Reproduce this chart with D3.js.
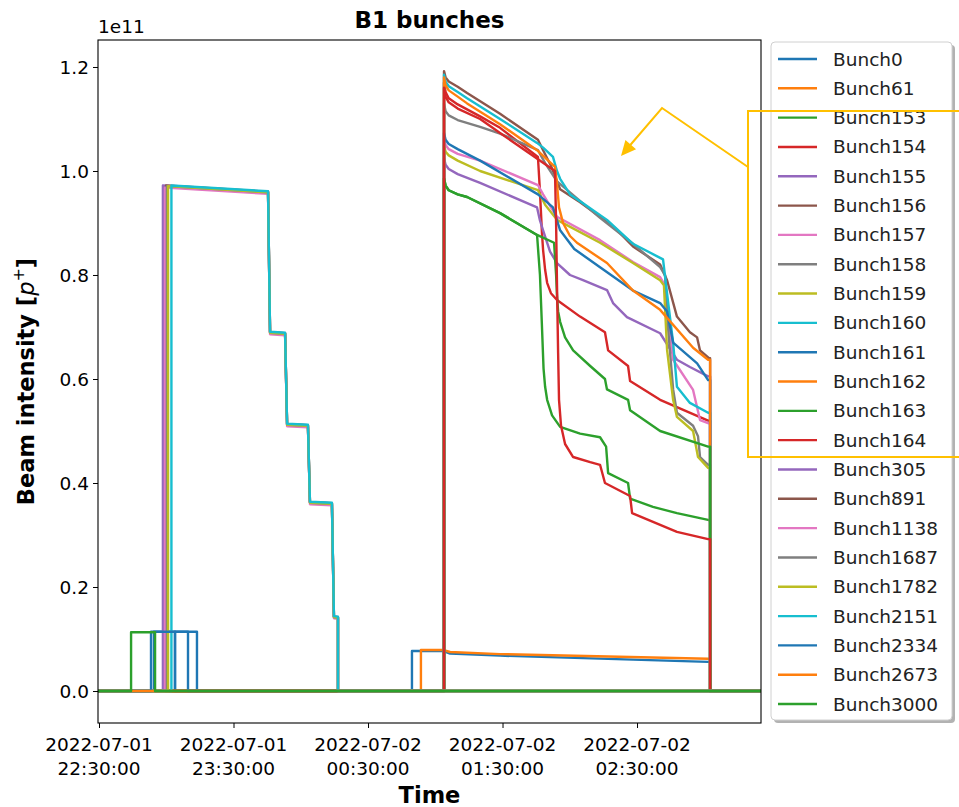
<!DOCTYPE html>
<html><head><meta charset="utf-8">
<script src="https://cdn.jsdelivr.net/npm/d3@7"></script>
<style>body{margin:0;background:#fff}text{font-family:"DejaVu Sans",sans-serif}</style>
</head><body><svg id="c" width="959" height="807"></svg>
<script>
// ---------- data ----------
const startTime = "2022-07-01T22:30:00";           // minutes below are offsets from this
const xTickMinutes = [0, 60, 120, 180, 240];
const xTickDates = ["2022-07-01", "2022-07-01", "2022-07-02", "2022-07-02", "2022-07-02"];
const xTickClock = ["22:30:00", "23:30:00", "00:30:00", "01:30:00", "02:30:00"];
const yTicks = [0.0, 0.2, 0.4, 0.6, 0.8, 1.0, 1.2];
const bunchNames = ["Bunch0","Bunch61","Bunch153","Bunch154","Bunch155","Bunch156","Bunch157","Bunch158","Bunch159","Bunch160","Bunch161","Bunch162","Bunch163","Bunch164","Bunch305","Bunch891","Bunch1138","Bunch1687","Bunch1782","Bunch2151","Bunch2334","Bunch2673","Bunch3000"];
const palette = ["#1f77b4","#ff7f0e","#2ca02c","#d62728","#9467bd","#8c564b","#e377c2","#7f7f7f","#bcbd22","#17becf"];

// [minutes since start, intensity in 1e11 p+]
const bunch0 = [[-5,0],[33.9,0],[33.9,0.114],[43.7,0.114],[43.7,0],[139.6,0],[139.6,0.077],[153.4,0.077],[156.6,0.072],[178.9,0.068],[271.7,0.056],[272.6,0.056],[272.6,0],[300,0]];
const bunch61 = [[-5,0],[143.6,0],[143.6,0.079],[153.4,0.079],[156.6,0.075],[178.9,0.071],[271.7,0.062],[272.6,0.062],[272.6,0],[300,0]];
const bunch153 = [[-5,0],[153.9,0],[153.9,0.986],[154.6,0.972],[156,0.963],[160,0.955],[164.2,0.95],[178.9,0.919],[195.4,0.877],[196.7,0.80],[197.6,0.70],[198.3,0.62],[199.0,0.585],[199.9,0.56],[202.1,0.53],[205.7,0.508],[214.6,0.495],[223.5,0.488],[226.2,0.470],[227.1,0.419],[236.0,0.40],[236.9,0.37],[247.1,0.354],[257.8,0.342],[271.7,0.329],[272.6,0.329],[272.6,0],[300,0]];
const bunch154 = [[-5,0],[153.9,0],[153.9,1.17],[154.6,1.152],[156,1.14],[160,1.128],[170.0,1.105],[178.9,1.083],[195.8,1.027],[196.7,0.96],[197.6,0.88],[198.1,0.848],[199.0,0.81],[199.9,0.785],[201.6,0.765],[204.3,0.752],[214.6,0.72],[225.7,0.69],[227.1,0.655],[236.0,0.625],[236.9,0.596],[250.3,0.56],[271.7,0.52],[272.6,0.52],[272.6,0],[300,0]];
const bunch155 = [[-5,0],[153.9,0],[153.9,1.025],[154.6,1.012],[156,1.004],[160,0.994],[170.0,0.977],[195.4,0.93],[196.7,0.905],[198.1,0.886],[201.2,0.845],[204.3,0.823],[210.1,0.80],[215.9,0.79],[226.6,0.771],[229.3,0.746],[235.5,0.719],[250.3,0.688],[257.8,0.637],[263.6,0.623],[271.7,0.605],[272.6,0.605],[272.6,0],[300,0]];
const bunch156 = [[-5,0],[153.9,0],[153.9,1.192],[154.6,1.18],[156,1.172],[160,1.162],[164.2,1.15],[178.9,1.11],[195.8,1.06],[198.1,1.04],[201.6,1.01],[205.7,0.965],[214.6,0.94],[223.5,0.912],[230.2,0.89],[238.2,0.855],[250.3,0.82],[253.4,0.79],[257.8,0.72],[263.6,0.69],[266.8,0.68],[268.1,0.655],[272.1,0.64],[272.6,0.64],[272.6,0],[300,0]];
const bunch157 = [[-5,0],[153.9,0],[153.9,1.063],[154.6,1.05],[156,1.042],[160,1.033],[170.0,1.02],[195.8,0.973],[198.1,0.955],[201.6,0.93],[204.3,0.912],[223.5,0.867],[238.2,0.825],[250.3,0.796],[252.5,0.78],[256.1,0.637],[265.0,0.579],[268.1,0.521],[271.7,0.515],[272.6,0.515],[272.6,0],[300,0]];
const bunch158 = [[-5,0],[153.9,0],[153.9,1.13],[154.6,1.115],[156,1.107],[160,1.098],[170.0,1.085],[178.9,1.072],[195.8,1.04],[199.0,1.015],[204.3,0.98],[223.5,0.91],[238.2,0.86],[250.3,0.815],[252.5,0.80],[253.8,0.70],[256.1,0.58],[257.8,0.535],[265.0,0.51],[267.2,0.49],[268.1,0.45],[271.7,0.435],[272.6,0.435],[272.6,0],[300,0]];
const bunch159 = [[-5,0],[153.9,0],[153.9,1.05],[154.6,1.037],[156,1.03],[160,1.02],[170.0,1.00],[195.8,0.963],[199.0,0.935],[204.3,0.906],[223.5,0.862],[238.2,0.823],[250.3,0.79],[252.0,0.78],[253.4,0.656],[256.1,0.56],[257.8,0.527],[265.0,0.50],[267.2,0.45],[271.7,0.429],[272.6,0.429],[272.6,0],[300,0]];
const bunch160 = [[-5,0],[153.9,0],[153.9,1.185],[154.6,1.172],[156,1.163],[160,1.152],[164.2,1.14],[178.9,1.10],[195.4,1.054],[198.1,1.045],[202.5,1.027],[204.3,1.0],[205.7,0.985],[210.1,0.955],[215.9,0.938],[226.6,0.906],[238.2,0.86],[250.3,0.833],[251.6,0.83],[253.8,0.75],[256.1,0.67],[257.8,0.585],[263.6,0.554],[271.7,0.535],[272.6,0.535],[272.6,0],[300,0]];
const bunch161 = [[-5,0],[24.5,0],[24.5,0.114],[33.9,0.114],[33.9,0],[153.9,0],[153.9,1.073],[154.6,1.06],[156,1.052],[160,1.042],[170.0,1.02],[195.8,0.955],[202.5,0.93],[205.7,0.886],[212,0.85],[223.5,0.815],[238.2,0.77],[250.3,0.746],[253.4,0.73],[256.1,0.67],[266.8,0.63],[271.7,0.598],[272.6,0.598],[272.6,0],[300,0]];
const bunch162 = [[-5,0],[153.9,0],[153.9,1.18],[154.6,1.165],[156,1.155],[160,1.143],[164.2,1.13],[178.9,1.09],[195.4,1.04],[203.4,1.008],[204.3,0.975],[205.2,0.93],[207.0,0.90],[210.1,0.875],[213.2,0.862],[226.6,0.823],[238.2,0.77],[250.3,0.733],[265.0,0.66],[271.7,0.637],[272.6,0.637],[272.6,0],[300,0]];
const bunch163 = [[-5,0],[153.9,0],[153.9,0.986],[154.6,0.972],[156,0.963],[160,0.955],[164.2,0.95],[178.9,0.919],[195.4,0.877],[203.0,0.862],[203.9,0.80],[204.3,0.76],[204.8,0.73],[205.7,0.71],[207.9,0.68],[211.5,0.655],[219.1,0.625],[225.7,0.60],[226.6,0.58],[236.0,0.56],[236.9,0.54],[250.3,0.50],[271.7,0.47],[272.6,0.47],[272.6,0],[300,0]];
const bunch164 = [[-5,0],[153.9,0],[153.9,1.16],[154.6,1.143],[156,1.132],[160,1.12],[170.0,1.10],[178.9,1.073],[203.4,1.00],[203.9,0.90],[204.3,0.78],[204.8,0.65],[205.2,0.56],[206.1,0.51],[207.9,0.475],[211.5,0.45],[219.1,0.44],[223.5,0.435],[225.7,0.40],[236.9,0.375],[237.8,0.342],[257.8,0.306],[271.7,0.292],[272.6,0.292],[272.6,0],[300,0]];
const bunch305 = [[-5,0],[28.5,0],[28.5,0.972],[75.4,0.960],[76.3,0.690],[83.0,0.688],[83.9,0.513],[93.2,0.511],[94.1,0.363],[103.9,0.361],[104.8,0.143],[106.6,0.142],[106.6,0],[300,0]];
const bunch891 = [[-5,0],[29.9,0],[29.9,0.972],[75.4,0.960],[76.3,0.690],[83.0,0.688],[83.9,0.513],[93.2,0.511],[94.1,0.363],[103.9,0.361],[104.8,0.143],[106.6,0.142],[106.6,0],[300,0]];
const bunch1138 = [[-5,0],[29.4,0],[29.4,0.968],[75.4,0.956],[76.3,0.686],[83.0,0.684],[83.9,0.509],[93.2,0.507],[94.1,0.359],[103.9,0.357],[104.8,0.140],[106.6,0.139],[106.6,0],[300,0]];
const bunch1687 = [[-5,0],[30.3,0],[30.3,0.971],[75.4,0.959],[76.3,0.689],[83.0,0.687],[83.9,0.512],[93.2,0.510],[94.1,0.362],[103.9,0.360],[104.8,0.142],[106.6,0.141],[106.6,0],[300,0]];
const bunch1782 = [[-5,0],[30.8,0],[30.8,0.971],[75.4,0.959],[76.3,0.689],[83.0,0.687],[83.9,0.512],[93.2,0.510],[94.1,0.362],[103.9,0.360],[104.8,0.142],[106.6,0.141],[106.6,0],[300,0]];
const bunch2151 = [[-5,0],[32.3,0],[32.3,0.972],[75.4,0.961],[76.3,0.691],[83.0,0.689],[83.9,0.514],[93.2,0.512],[94.1,0.364],[103.9,0.362],[104.8,0.144],[106.6,0.143],[106.6,0],[300,0]];
const bunch2334 = [[-5,0],[23.2,0],[23.2,0.114],[39.7,0.114],[39.7,0],[300,0]];
const bunch2673 = [[-5,0],[300,0]];
const bunch3000 = [[-5,0],[14.3,0],[14.3,0.113],[25.0,0.113],[25.0,0],[300,0]];

const traces = [bunch0,bunch61,bunch153,bunch154,bunch155,bunch156,bunch157,bunch158,bunch159,bunch160,bunch161,bunch162,bunch163,bunch164,bunch305,bunch891,bunch1138,bunch1687,bunch1782,bunch2151,bunch2334,bunch2673,bunch3000];

// ---------- layout ----------
const L = 98, R = 761, T = 40, B = 723;
const t0 = new Date(startTime);
const toDate = m => new Date(t0.getTime() + m * 60000);
const svg = d3.select("#c");
const x = d3.scaleTime().domain([toDate(-0.45), toDate(295.3)]).range([L, R]);
const y = d3.scaleLinear().domain([-0.0615, 1.2519]).range([B, T]);

svg.append("defs").append("clipPath").attr("id","clip")
  .append("rect").attr("x",L).attr("y",T).attr("width",R-L).attr("height",B-T);

const line = d3.line().x(d => x(toDate(d[0]))).y(d => y(d[1]));
const g = svg.append("g").attr("clip-path","url(#clip)");
traces.forEach((tr,i) => {
  g.append("path").attr("d", line(tr)).attr("fill","none")
    .attr("stroke", palette[i % 10]).attr("stroke-width", 2.4)
    .attr("stroke-linejoin","round");
});

// axes
const fs = 18.5;
const xAxis = svg.append("g").attr("transform",`translate(0,${B})`)
  .call(d3.axisBottom(x).tickValues(xTickMinutes.map(toDate)).tickSize(5).tickFormat(""));
const yAxis = svg.append("g").attr("transform",`translate(${L},0)`)
  .call(d3.axisLeft(y).tickValues(yTicks).tickSize(5).tickFormat(d3.format(".1f")));
[xAxis,yAxis].forEach(a => { a.select(".domain").remove(); a.selectAll("line").attr("stroke","#000").attr("stroke-width",1); });
yAxis.selectAll("text").attr("font-size", fs).attr("fill","#000").attr("x",-9).attr("dy","0.35em")
  .style("font-family","DejaVu Sans");
xTickMinutes.forEach((m,i) => {
  const cx = x(toDate(m));
  svg.append("text").attr("x",cx).attr("y",751).attr("text-anchor","middle").attr("font-size",fs).text(xTickDates[i]);
  svg.append("text").attr("x",cx).attr("y",775).attr("text-anchor","middle").attr("font-size",fs).text(xTickClock[i]);
});
svg.append("rect").attr("x",L).attr("y",T).attr("width",R-L).attr("height",B-T)
  .attr("fill","none").attr("stroke","#000").attr("stroke-width",1.1);

// labels
svg.append("text").attr("x",(L+R)/2).attr("y",28).attr("text-anchor","middle")
  .attr("font-size",23).attr("font-weight","bold").text("B1 bunches");
svg.append("text").attr("x",L).attr("y",33).attr("font-size",fs).text("1e11");
svg.append("text").attr("x",(L+R)/2).attr("y",803).attr("text-anchor","middle")
  .attr("font-size",22.5).attr("font-weight","bold").text("Time");
const yl = svg.append("text").attr("transform",`translate(34,${(T+B)/2}) rotate(-90)`)
  .attr("text-anchor","middle").attr("font-size",22.5).attr("font-weight","bold");
yl.append("tspan").text("Beam intensity [");
yl.append("tspan").attr("font-style","italic").attr("font-weight","normal").text("p");
yl.append("tspan").attr("font-size",16).attr("font-weight","normal").attr("dy",-10).text("+");
yl.append("tspan").attr("dy",10).text("]");

// legend
const lg = svg.append("g");
lg.append("rect").attr("x",774).attr("y",45).attr("width",181).attr("height",678).attr("rx",4)
  .attr("fill","#000").attr("opacity",0.3);
lg.append("rect").attr("x",771).attr("y",42).attr("width",181).attr("height",678).attr("rx",4)
  .attr("fill","#fff").attr("stroke","#d0d0d0").attr("stroke-width",1);
bunchNames.forEach((n,i) => {
  const cy = 59 + i * 29.32;
  lg.append("line").attr("x1",778).attr("x2",817).attr("y1",cy).attr("y2",cy)
    .attr("stroke",palette[i % 10]).attr("stroke-width",2.4);
  lg.append("text").attr("x",833).attr("y",cy+6.5).attr("font-size",fs).attr("fill","#222").text(n);
});

// annotation (yellow)
const yc = "#FFC000";
const an = svg.append("g").attr("fill","none").attr("stroke",yc).attr("stroke-width",2);
an.append("rect").attr("x",748).attr("y",111).attr("width",260).attr("height",346);
const tip = [621,156], knee = [662,108];
an.append("polyline").attr("points",`748,167 ${knee} 629,146.5`);
const dx = tip[0]-knee[0], dy = tip[1]-knee[1], len = Math.hypot(dx,dy), ux = dx/len, uy = dy/len;
const bx = tip[0]-15*ux, by = tip[1]-15*uy, px = -uy*7, py = ux*7;
svg.append("path").attr("d",`M${tip}L${bx+px},${by+py}L${bx-px},${by-py}Z`).attr("fill",yc);
</script></body></html>
